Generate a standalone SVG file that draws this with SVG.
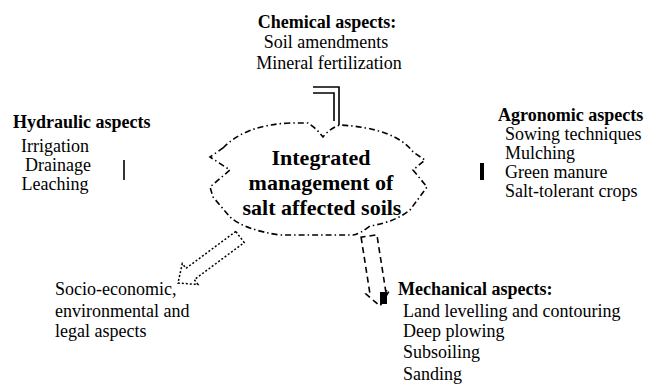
<svg xmlns="http://www.w3.org/2000/svg" width="653" height="385" viewBox="0 0 653 385">
<style>
text{font-family:"Liberation Serif","Times New Roman",serif;fill:#000}
.t{font-size:18px;font-weight:bold}
.i{font-size:18px}
.c{font-size:22px;font-weight:bold}
.cloud{fill:none;stroke:#000;stroke-width:1.6;stroke-dasharray:6,3,1.5,3}
.ln{fill:none;stroke:#000;stroke-width:1.6}
.dot{fill:#fff;stroke:#000;stroke-width:1.5;stroke-dasharray:2,2}
.dash{fill:#fff;stroke:#000;stroke-width:1.6;stroke-dasharray:6,4}
</style>
<rect width="653" height="385" fill="#fff"/>
<g id="connectors">
<polyline class="ln" points="313,87 339,87 339,125"/>
<polyline class="ln" points="313,93 334,93 334,121"/>
<line class="ln" x1="124" y1="160" x2="124" y2="180" stroke-width="2"/>
<line x1="482" y1="163" x2="482" y2="180" stroke="#000" stroke-width="4"/>
<polygon class="dot" points="235.8,231.4 185.9,268.4 182.3,263.5 178,283 197.9,284.5 194.3,279.6 244.2,242.6"/>
<polygon class="dash" points="361.1,237.2 369.9,293.4 366,294.1 380,306 389.6,290.3 385.7,291 376.9,234.8"/>
<rect x="380" y="292" width="7" height="12" fill="#000"/>
</g>
<g id="center">
<path class="cloud" d="M223,148 Q245,125 290,123 L308,123 Q316,128 323,137 Q330,128 340,125 Q395,128 413,152 L425,160 L413,170 L427,187 L410,210 Q395,222 370,226 Q360,234 353,235 L280,235 Q245,230 230,217 L213,197 L210,187 L230,170 L210,157 Z"/>
<text class="c" x="321" y="165" text-anchor="middle">Integrated</text>
<text class="c" x="321" y="190" text-anchor="middle">management of</text>
<text class="c" x="322" y="215" text-anchor="middle">salt affected soils</text>
</g>
<g id="chemical">
<text class="t" x="327" y="28" text-anchor="middle">Chemical aspects:</text>
<text class="i" x="326" y="48" text-anchor="middle">Soil amendments</text>
<text class="i" x="329" y="69" text-anchor="middle">Mineral fertilization</text>
</g>
<g id="hydraulic">
<text class="t" x="13" y="128">Hydraulic aspects</text>
<text class="i" x="55" y="152" text-anchor="middle">Irrigation</text>
<text class="i" x="58" y="171" text-anchor="middle">Drainage</text>
<text class="i" x="55" y="190" text-anchor="middle">Leaching</text>
</g>
<g id="agronomic">
<text class="t" x="498" y="121">Agronomic aspects</text>
<text class="i" x="505" y="140">Sowing techniques</text>
<text class="i" x="505" y="159">Mulching</text>
<text class="i" x="505" y="178">Green manure</text>
<text class="i" x="505" y="197">Salt-tolerant crops</text>
</g>
<g id="socio">
<text class="i" x="55" y="295">Socio-economic,</text>
<text class="i" x="55" y="317">environmental and</text>
<text class="i" x="55" y="337">legal aspects</text>
</g>
<g id="mechanical">
<text class="t" x="398" y="295">Mechanical aspects:</text>
<text class="i" x="403" y="317">Land levelling and contouring</text>
<text class="i" x="403" y="337">Deep plowing</text>
<text class="i" x="403" y="358">Subsoiling</text>
<text class="i" x="403" y="380">Sanding</text>
</g>
</svg>
